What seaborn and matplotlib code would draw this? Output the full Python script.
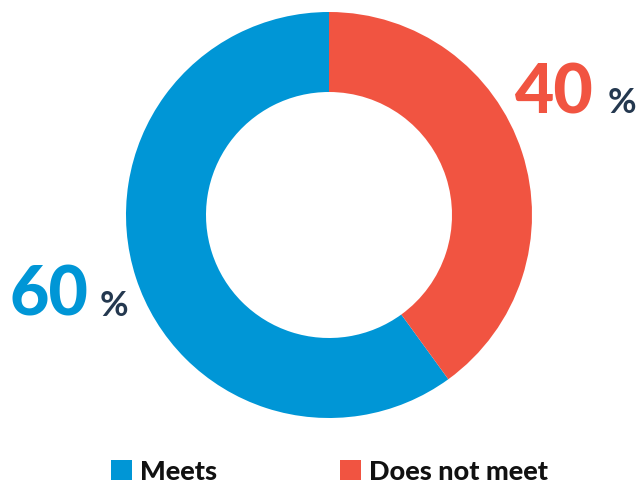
import matplotlib
matplotlib.use("Agg")
import matplotlib.pyplot as plt
import seaborn as sns

# data
labels = ["Meets", "Does not meet"]
shares = [60, 40]
colors = ["#0096D6", "#F15441"]
pct_color = "#24384F"

sns.set_theme(style="white")
plt.rcParams["font.family"] = ["Lato", "DejaVu Sans"]

fig = plt.figure(figsize=(6.39, 4.83), dpi=100)
ax = fig.add_axes([0, 0, 1, 1])

wedges, _ = ax.pie(shares, colors=colors, startangle=90, counterclock=True,
                   center=(329, 268), radius=203,
                   wedgeprops=dict(width=80, edgecolor="none"))
# pie resets the limits, so put pixel-like limits back afterwards
ax.set_xlim(0, 639)
ax.set_ylim(0, 483)
ax.set_aspect("equal")
ax.axis("off")

# big percentage labels
ax.text(9, 167, f"{shares[0]}", color=colors[0], fontsize=49,
        fontweight=900, ha="left", va="baseline")
ax.text(100, 167, "%", color=pct_color, fontsize=25,
        fontweight="bold", ha="left", va="baseline")
ax.text(515, 370, f"{shares[1]}", color=colors[1], fontsize=49,
        fontweight=900, ha="left", va="baseline")
ax.text(608, 370, "%", color=pct_color, fontsize=25,
        fontweight="bold", ha="left", va="baseline")

leg = ax.legend(wedges, labels, loc="lower left", bbox_to_anchor=(0.136, -0.052),
                ncol=2, frameon=False, handlelength=0.76, handleheight=0.76,
                handletextpad=0.3, columnspacing=4.55,
                prop=dict(family="Lato", weight=900, size=19.5))
for t in leg.get_texts():
    t.set_color("#111111")

fig.savefig("out.png", dpi=100)
